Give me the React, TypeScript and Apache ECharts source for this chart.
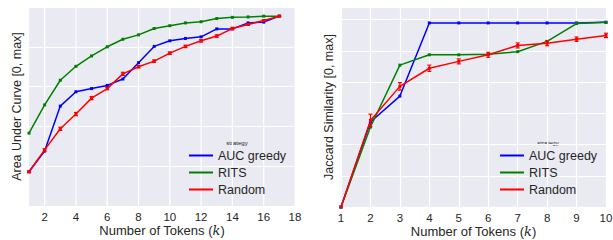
import React, { useEffect, useRef } from "react";
import * as echarts from "echarts";

const strategies = ["AUC greedy", "RITS", "Random"];
const colors = ["#0000ff", "#008000", "#ff0000"];

const leftX = [1, 2, 3, 4, 5, 6, 7, 8, 9, 10, 11, 12, 13, 14, 15, 16, 17];
const aucLeft = [0.86, 1.38, 2.51, 2.87, 2.95, 3.03, 3.19, 3.6, 4.01, 4.15, 4.21, 4.25, 4.45, 4.45, 4.6, 4.62, 4.77];
const ritsLeft = [1.83, 2.54, 3.16, 3.51, 3.77, 4.0, 4.19, 4.3, 4.46, 4.53, 4.6, 4.63, 4.71, 4.74, 4.75, 4.77, 4.77];
const randLeft = [0.86, 1.41, 1.94, 2.31, 2.71, 2.95, 3.32, 3.5, 3.64, 3.84, 4.01, 4.15, 4.27, 4.46, 4.56, 4.66, 4.77];
const randLeftErr = [0.02, 0.03, 0.04, 0.04, 0.04, 0.03, 0.04, 0.03, 0.03, 0.03, 0.03, 0.03, 0.03, 0.03, 0.02, 0.02, 0.01];
const leftTicks = [2, 4, 6, 8, 10, 12, 14, 16, 18];

const rightX = [1, 2, 3, 4, 5, 6, 7, 8, 9, 10];
const aucRight = [0, 2.72, 3.55, 5.89, 5.89, 5.89, 5.89, 5.89, 5.89, 5.91];
const ritsRight = [0, 2.56, 4.54, 4.87, 4.87, 4.89, 4.97, 5.3, 5.87, 5.91];
const randRight = [0, 2.77, 3.86, 4.44, 4.66, 4.87, 5.17, 5.24, 5.37, 5.49];
const randRightErr = [0, 0.2, 0.12, 0.1, 0.08, 0.08, 0.08, 0.08, 0.07, 0.07];

const FONT = "'Liberation Sans', Arial, sans-serif";
const TXT = "#262626";
const LABEL_SIZE = 11.5;
const LABEL_MARGIN = 5;

function pairs(xs: number[], ys: number[]) {
  return xs.map((x, i) => [x, ys[i]]);
}

function lineSeries(name: string, color: string, idx: number, xs: number[], ys: number[]) {
  return {
    type: "line",
    name,
    xAxisIndex: idx,
    yAxisIndex: idx,
    data: pairs(xs, ys),
    symbol: "rect",
    symbolSize: 3,
    itemStyle: { color },
    lineStyle: { color, width: 1.5 },
    z: 3,
  };
}

function errSeries(idx: number, xs: number[], ys: number[], es: number[], color: string) {
  return {
    type: "custom",
    xAxisIndex: idx,
    yAxisIndex: idx,
    z: 4,
    silent: true,
    data: xs.map((x, i) => [x, ys[i], es[i]]),
    renderItem: (params: any, api: any) => {
      const x = api.value(0);
      const y = api.value(1);
      const e = api.value(2);
      if (!e) return { type: "group", children: [] };
      const lo = api.coord([x, y - e]);
      const hi = api.coord([x, y + e]);
      const st = { stroke: color, lineWidth: 1.2 };
      return {
        type: "group",
        children: [
          { type: "line", shape: { x1: lo[0], y1: lo[1], x2: hi[0], y2: hi[1] }, style: st },
          { type: "line", shape: { x1: lo[0] - 2, y1: lo[1], x2: lo[0] + 2, y2: lo[1] }, style: st },
          { type: "line", shape: { x1: hi[0] - 2, y1: hi[1], x2: hi[0] + 2, y2: hi[1] }, style: st },
        ],
      };
    },
  };
}

export default function App() {
  const ref = useRef<HTMLDivElement>(null);
  useEffect(() => {
    document.body.style.margin = "0";
    const chart = echarts.init(ref.current!, undefined, { renderer: "svg" });
    const xName = {
      name: "Number of Tokens ({i|k})",
      nameLocation: "middle",
      nameGap: 18,
      nameMoveOverlap: false,
      nameTextStyle: {
        fontSize: 13,
        color: TXT,
        fontFamily: FONT,
        rich: { i: { fontStyle: "italic", fontSize: 13, color: TXT, fontFamily: "'DejaVu Serif', serif" } },
      },
    };
    const axisLabel = { color: TXT, fontSize: LABEL_SIZE, fontFamily: FONT, margin: LABEL_MARGIN, showMaxLabel: true, showMinLabel: true };
    const legendBase = {
      data: strategies,
      orient: "vertical",
      top: 149,
      padding: 0,
      icon: "rect",
      itemWidth: 24,
      itemHeight: 2,
      itemGap: 4,
      textStyle: { fontSize: 12.5, color: TXT, fontFamily: FONT, lineHeight: 13 },
    };
    const gridBase = { show: true, backgroundColor: "#EAEAF2", borderWidth: 0, containLabel: false, outerBoundsMode: "none" };
    const option: any = {
      animation: false,
      textStyle: { fontFamily: FONT },
      grid: [
        { ...gridBase, left: 29, right: 318, top: 7, bottom: 34 },
        { ...gridBase, left: 341, right: 7, top: 7, bottom: 33 },
      ],
      xAxis: [
        {
          type: "value",
          gridIndex: 0,
          min: 1,
          max: 18,
          interval: 1,
          ...xName,
          axisLine: { show: false },
          axisTick: { show: false },
          splitLine: { show: false },
          axisLabel: { show: false },
        },
        {
          type: "value",
          gridIndex: 1,
          min: 1,
          max: 10,
          interval: 1,
          ...xName,
          axisLine: { show: false },
          axisTick: { show: false },
          splitLine: { show: true, lineStyle: { color: "#ffffff", width: 1.2 } },
          axisLabel,
        },
      ],
      yAxis: [
        {
          type: "value",
          gridIndex: 0,
          min: 0,
          max: 5,
          interval: 1,
          name: "Area Under Curve [0, max]",
          nameLocation: "middle",
          nameGap: 6,
          nameMoveOverlap: false,
          nameTextStyle: { fontSize: 12.5, color: TXT, fontFamily: FONT },
          axisLine: { show: false },
          axisTick: { show: false },
          axisLabel: { show: false },
          splitLine: { show: true, lineStyle: { color: "#ffffff", width: 1.2 } },
        },
        {
          type: "value",
          gridIndex: 1,
          min: 0,
          max: 6.4,
          interval: 1,
          name: "Jaccard Similarity [0, max]",
          nameLocation: "middle",
          nameGap: 6,
          nameMoveOverlap: false,
          nameTextStyle: { fontSize: 12.5, color: TXT, fontFamily: FONT },
          axisLine: { show: false },
          axisTick: { show: false },
          axisLabel: { show: false },
          splitLine: { show: true, lineStyle: { color: "#ffffff", width: 1.2 } },
        },
      ],
      legend: [
        { ...legendBase, left: 189 },
        { ...legendBase, left: 500 },
      ],
      graphic: [
        { type: "text", x: 237, y: 143, style: { text: "strategy", fontSize: 6, fill: TXT, fontFamily: FONT, align: "center", verticalAlign: "middle" } },
        { type: "text", x: 548, y: 143, style: { text: "strategy", fontSize: 6, fill: TXT, fontFamily: FONT, align: "center", verticalAlign: "middle" } },
      ],
      series: [
        {
          type: "custom",
          xAxisIndex: 0,
          yAxisIndex: 0,
          z: 1,
          silent: true,
          clip: false,
          data: leftTicks.map((v) => [v]),
          renderItem: (params: any, api: any) => {
            const x = api.value(0);
            const top = api.coord([x, 5]);
            const bot = api.coord([x, 0]);
            return {
              type: "group",
              children: [
                {
                  type: "line",
                  shape: { x1: top[0], y1: top[1], x2: bot[0], y2: bot[1] },
                  style: { stroke: "#ffffff", lineWidth: 1.2 },
                },
                {
                  type: "text",
                  x: bot[0],
                  y: bot[1] + LABEL_MARGIN,
                  style: {
                    text: String(x),
                    fontSize: LABEL_SIZE,
                    fontFamily: FONT,
                    fill: TXT,
                    align: "center",
                    verticalAlign: "top",
                  },
                },
              ],
            };
          },
        },
        lineSeries(strategies[0], colors[0], 0, leftX, aucLeft),
        lineSeries(strategies[1], colors[1], 0, leftX, ritsLeft),
        lineSeries(strategies[2], colors[2], 0, leftX, randLeft),
        errSeries(0, leftX, randLeft, randLeftErr, colors[2]),
        lineSeries(strategies[0], colors[0], 1, rightX, aucRight),
        lineSeries(strategies[1], colors[1], 1, rightX, ritsRight),
        lineSeries(strategies[2], colors[2], 1, rightX, randRight),
        errSeries(1, rightX, randRight, randRightErr, colors[2]),
      ],
    };
    chart.setOption(option);
    return () => chart.dispose();
  }, []);
  return <div ref={ref} style={{ width: 613, height: 240 }} />;
}
